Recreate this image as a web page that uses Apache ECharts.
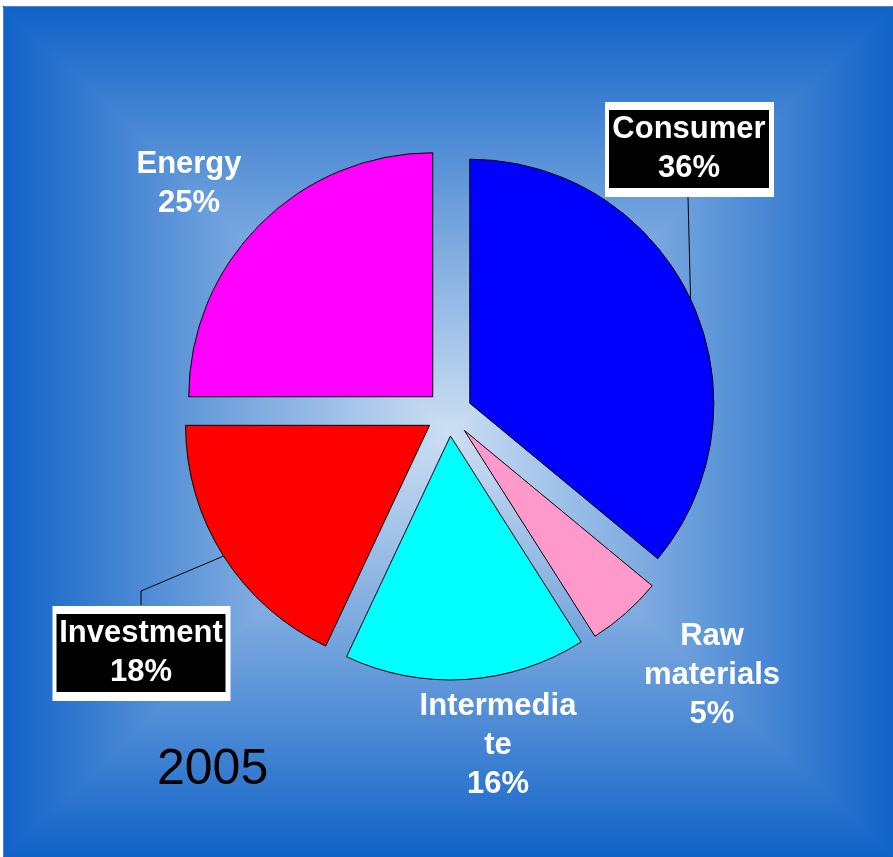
<!DOCTYPE html>
<html>
<head>
<meta charset="utf-8">
<script src="https://cdn.jsdelivr.net/npm/echarts@6/dist/echarts.min.js"></script>
<style>
  html, body { margin: 0; padding: 0; background: #fff; }
  #chart { width: 893px; height: 857px; }
</style>
</head>
<body>
<div id="chart"></div>
<script>
  var categories = ['Consumer', 'Raw materials', 'Intermediate', 'Investment', 'Energy'];
  var shares = [36, 5, 16, 18, 25];
  var labelLines = [['Consumer', '36%'], ['Raw', 'materials', '5%'], ['Intermedia', 'te', '16%'], ['Investment', '18%'], ['Energy', '25%']];
  var colors = ['#0000ff', '#ff99cc', '#00ffff', '#ff0000', '#ff00ff'];
  var yearLabel = '2005';

  // pie geometry
  var pieCenter = [449, 413], pieRadius = 244, explode = 23;

  // where each label sits; boxed labels get a leader line
  var labelPos = [[689, 149], [712, 675], [498, 745], [141, 653], [189, 184]];
  var leaderBends = { 0: [[688, 197]], 3: [[141, 591], [141, 605]] };
  var boxWidth = { 0: 160, 3: 169 };

  var font = '"Liberation Sans", Arial, sans-serif';
  var chart = echarts.init(document.getElementById('chart'));

  // rectangular gradient background: four triangles meeting in the middle
  var L = 4, T = 7, R = 893, B = 857, cx = 448, cy = 432;
  var edge = '#1062c8', mid = '#72a3dd', centre = '#cddff3';
  function grad(x, y, x2, y2) {
    return {
      type: 'linear', x: x, y: y, x2: x2, y2: y2,
      colorStops: [{ offset: 0, color: edge }, { offset: 0.5, color: mid }, { offset: 1, color: centre }]
    };
  }
  function tri(pts, g) {
    return { type: 'polygon', shape: { points: pts }, style: { fill: g, stroke: g, lineWidth: 1.5 } };
  }
  var bg = [
    { type: 'rect', shape: { x: L, y: T, width: R - L, height: B - T }, style: { fill: mid } },
    tri([[L, T], [R, T], [cx, cy]], grad(0, 0, 0, 1)),
    tri([[L, B], [R, B], [cx, cy]], grad(0, 1, 0, 0)),
    tri([[L, T], [L, B], [cx, cy]], grad(0, 0, 1, 0)),
    tri([[R, T], [R, B], [cx, cy]], grad(1, 0, 0, 0))
  ];

  // point on the outer rim of an exploded slice, at its middle angle
  var total = shares.reduce(function (a, b) { return a + b; }, 0);
  function rimPoint(i) {
    var before = 0;
    for (var k = 0; k < i; k++) before += shares[k];
    var a = (90 - 360 * (before + shares[i] / 2) / total) * Math.PI / 180;
    var d = pieRadius + explode;
    return [pieCenter[0] + d * Math.cos(a), pieCenter[1] - d * Math.sin(a)];
  }

  var labels = [];
  labelLines.forEach(function (lines, i) {
    var x = labelPos[i][0], y = labelPos[i][1];
    if (boxWidth[i]) {
      var w = boxWidth[i], h = lines.length * 39;
      // white frame, black box
      labels.push({ type: 'rect', z: 18, shape: { x: x - w / 2 - 4, y: y - h / 2 - 8, width: w + 9, height: h + 17 }, style: { fill: '#fff' } });
      labels.push({ type: 'rect', z: 19, shape: { x: x - w / 2, y: y - h / 2, width: w, height: h }, style: { fill: '#000' } });
    }
    labels.push({
      type: 'text', z: 20,
      style: {
        x: x, y: y, align: 'center', verticalAlign: 'middle',
        text: lines.join('\n'), fill: '#fff',
        fontSize: 31, fontWeight: 'bold', fontFamily: font, lineHeight: 39
      }
    });
  });

  var leaders = Object.keys(leaderBends).map(function (k) {
    return {
      type: 'polyline', z: 15,
      shape: { points: [rimPoint(+k)].concat(leaderBends[k]) },
      style: { stroke: '#000', lineWidth: 1, fill: null }
    };
  });

  var pieData = categories.map(function (name, i) {
    return { name: name, value: shares[i], selected: true, itemStyle: { color: colors[i] } };
  });

  chart.setOption({
    backgroundColor: '#fff',
    animation: false,
    graphic: [
      { type: 'group', z: -10, children: bg },
      {
        type: 'text', z: 5,
        style: { x: 157, y: 770, text: yearLabel, fill: '#000', fontSize: 50, fontFamily: font, verticalAlign: 'middle' }
      }
    ].concat(leaders, labels),
    series: [{
      type: 'pie',
      z: 10,
      center: pieCenter,
      radius: pieRadius,
      startAngle: 90,
      clockwise: true,
      selectedMode: 'multiple',
      selectedOffset: explode,
      itemStyle: { borderColor: '#000', borderWidth: 1 },
      emphasis: { disabled: true },
      label: { show: false },
      labelLine: { show: false },
      data: pieData
    }]
  });
</script>
</body>
</html>
